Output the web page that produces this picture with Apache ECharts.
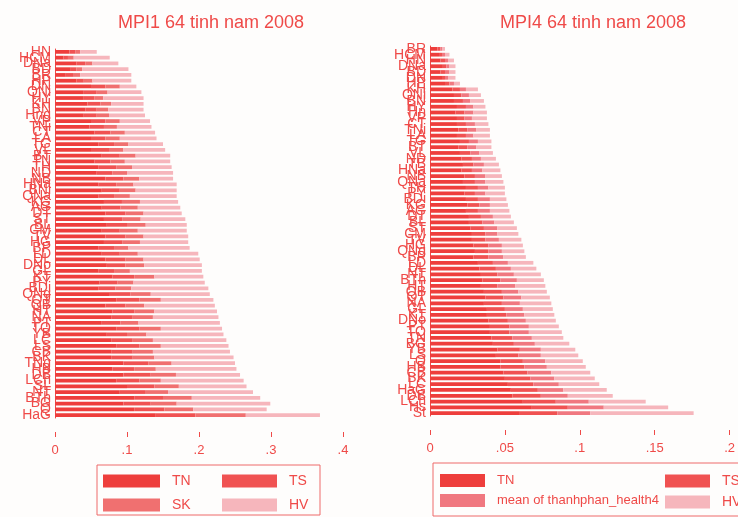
<!DOCTYPE html>
<html>
<head>
<meta charset="utf-8">
<title>MPI 64 tinh nam 2008</title>
<script src="https://cdn.jsdelivr.net/npm/echarts@6/dist/echarts.min.js"></script>
<style>
  html, body { margin: 0; padding: 0; background: #fefdfc; }
  #chart { width: 738px; height: 517px; }
</style>
</head>
<body>
<div id="chart"></div>
<script>
// MPI1 panel (left): 64 provinces, top to bottom
const provincesMpi1 = ['HN', 'HCM', 'DNa', 'BD', 'BR', 'HP', 'DN', 'QNi', 'HY', 'KH', 'BN', 'Hng', 'VP', 'TNi', 'CT', 'LA',
  'TG', 'VL', 'BT', 'TN', 'TH', 'ND', 'NB', 'HNa', 'BNi', 'QNa', 'KG', 'AG', 'DT', 'ST', 'BL', 'CM',
  'TV', 'HG', 'BP', 'LD', 'DL', 'DNo', 'GL', 'KT', 'PY', 'BDi', 'QNg', 'QT', 'QB', 'HT', 'NA', 'PT',
  'TQ', 'YB', 'LC', 'LS', 'CB', 'BK', 'TNg', 'HB', 'DB', 'LCh', 'SL', 'NT', 'BTh', 'BG', 'Q', 'HaG']
const mpi1TN = [0.020, 0.012, 0.030, 0.022, 0.015, 0.030, 0.050, 0.040, 0.040, 0.045, 0.042, 0.040, 0.050, 0.048, 0.055, 0.050,
  0.060, 0.050, 0.065, 0.055, 0.060, 0.058, 0.070, 0.060, 0.065, 0.060, 0.068, 0.065, 0.070, 0.068, 0.072, 0.065,
  0.070, 0.068, 0.060, 0.065, 0.070, 0.072, 0.060, 0.080, 0.062, 0.060, 0.075, 0.085, 0.070, 0.080, 0.078, 0.065,
  0.085, 0.072, 0.078, 0.085, 0.078, 0.078, 0.095, 0.080, 0.095, 0.085, 0.100, 0.090, 0.110, 0.095, 0.110, 0.140]
const mpi1TS = [0.008, 0.006, 0.012, 0.008, 0.010, 0.010, 0.020, 0.018, 0.015, 0.018, 0.016, 0.018, 0.020, 0.020, 0.022, 0.020,
  0.022, 0.025, 0.025, 0.022, 0.025, 0.022, 0.025, 0.025, 0.025, 0.022, 0.025, 0.026, 0.028, 0.026, 0.028, 0.025,
  0.028, 0.026, 0.022, 0.025, 0.028, 0.026, 0.022, 0.030, 0.025, 0.024, 0.030, 0.032, 0.028, 0.030, 0.030, 0.026,
  0.032, 0.028, 0.030, 0.032, 0.030, 0.030, 0.035, 0.030, 0.038, 0.032, 0.038, 0.035, 0.040, 0.038, 0.042, 0.055]
const mpi1SK = [0.007, 0.008, 0.010, 0.008, 0.010, 0.012, 0.020, 0.015, 0.012, 0.015, 0.016, 0.017, 0.020, 0.018, 0.020, 0.020,
  0.020, 0.020, 0.022, 0.020, 0.022, 0.020, 0.022, 0.024, 0.022, 0.022, 0.025, 0.024, 0.025, 0.025, 0.026, 0.025,
  0.025, 0.024, 0.020, 0.025, 0.025, 0.026, 0.022, 0.028, 0.022, 0.022, 0.028, 0.030, 0.026, 0.028, 0.028, 0.025,
  0.030, 0.027, 0.028, 0.030, 0.028, 0.030, 0.032, 0.030, 0.035, 0.030, 0.034, 0.032, 0.040, 0.036, 0.040, 0.070]
const mpi1HV = [0.023, 0.050, 0.036, 0.064, 0.071, 0.054, 0.023, 0.047, 0.056, 0.045, 0.049, 0.050, 0.042, 0.048, 0.042, 0.051,
  0.048, 0.058, 0.048, 0.063, 0.055, 0.064, 0.047, 0.060, 0.057, 0.065, 0.053, 0.059, 0.053, 0.062, 0.057, 0.068,
  0.062, 0.067, 0.085, 0.084, 0.078, 0.080, 0.100, 0.068, 0.099, 0.107, 0.082, 0.073, 0.098, 0.087, 0.091, 0.113,
  0.085, 0.107, 0.102, 0.094, 0.107, 0.110, 0.088, 0.112, 0.089, 0.115, 0.094, 0.118, 0.095, 0.130, 0.102, 0.103]

// MPI4 panel (right)
const provincesMpi4 = ['BR', 'HCM', 'HN', 'DNa', 'BD', 'DN', 'HP', 'KH', 'QNi', 'BN', 'HY', 'Hn', 'VP', 'CT', 'TNi', 'LA',
  'TG', 'BT', 'VL', 'ND', 'TB', 'HNa', 'NB', 'QNa', 'TH', 'PY', 'BDi', 'KG', 'AG', 'DT', 'BL', 'ST',
  'CM', 'TV', 'HG', 'QNg', 'BP', 'LD', 'DL', 'NT', 'BTh', 'HT', 'QB', 'QT', 'NA', 'GL', 'KT', 'DNo',
  'PT', 'TQ', 'TN', 'BG', 'YB', 'LS', 'Q', 'HB', 'CB', 'BK', 'LC', 'HaG', 'DB', 'LCh', 'Hs', 'St']
const mpi4TN = [0.005, 0.006, 0.007, 0.008, 0.007, 0.008, 0.010, 0.015, 0.016, 0.016, 0.018, 0.017, 0.018, 0.018, 0.019, 0.018,
  0.020, 0.019, 0.020, 0.021, 0.022, 0.021, 0.023, 0.022, 0.024, 0.023, 0.024, 0.025, 0.024, 0.026, 0.026, 0.027,
  0.028, 0.028, 0.029, 0.030, 0.029, 0.032, 0.033, 0.034, 0.035, 0.034, 0.036, 0.037, 0.036, 0.038, 0.038, 0.039,
  0.040, 0.040, 0.041, 0.042, 0.045, 0.044, 0.047, 0.047, 0.049, 0.050, 0.052, 0.054, 0.055, 0.062, 0.068, 0.060]
const mpi4TS = [0.002, 0.002, 0.003, 0.003, 0.003, 0.002, 0.003, 0.005, 0.005, 0.006, 0.006, 0.006, 0.005, 0.006, 0.006, 0.006,
  0.006, 0.006, 0.007, 0.007, 0.007, 0.007, 0.007, 0.008, 0.008, 0.007, 0.008, 0.008, 0.008, 0.008, 0.009, 0.009,
  0.009, 0.009, 0.010, 0.009, 0.010, 0.010, 0.011, 0.011, 0.012, 0.011, 0.012, 0.012, 0.012, 0.012, 0.013, 0.013,
  0.013, 0.013, 0.014, 0.014, 0.015, 0.015, 0.015, 0.016, 0.016, 0.017, 0.017, 0.018, 0.019, 0.022, 0.024, 0.025]
const mpi4Health = [0.001, 0.002, 0.002, 0.002, 0.003, 0.002, 0.003, 0.004, 0.005, 0.005, 0.005, 0.006, 0.005, 0.006, 0.006, 0.005,
  0.006, 0.006, 0.006, 0.006, 0.007, 0.007, 0.007, 0.007, 0.007, 0.007, 0.008, 0.007, 0.008, 0.008, 0.008, 0.009,
  0.008, 0.009, 0.009, 0.009, 0.010, 0.010, 0.010, 0.011, 0.011, 0.012, 0.011, 0.012, 0.012, 0.012, 0.012, 0.012,
  0.013, 0.013, 0.013, 0.014, 0.014, 0.015, 0.015, 0.015, 0.016, 0.016, 0.017, 0.017, 0.018, 0.022, 0.024, 0.022]
const mpi4HV = [0.002, 0.003, 0.004, 0.004, 0.004, 0.005, 0.004, 0.008, 0.008, 0.009, 0.008, 0.009, 0.010, 0.009, 0.009, 0.011,
  0.009, 0.010, 0.009, 0.010, 0.010, 0.012, 0.011, 0.012, 0.011, 0.013, 0.011, 0.012, 0.013, 0.012, 0.013, 0.013,
  0.014, 0.015, 0.014, 0.015, 0.015, 0.017, 0.017, 0.018, 0.018, 0.020, 0.019, 0.019, 0.021, 0.020, 0.020, 0.020,
  0.020, 0.022, 0.021, 0.023, 0.023, 0.025, 0.025, 0.026, 0.026, 0.027, 0.027, 0.029, 0.030, 0.038, 0.043, 0.069]

const axisTicksMpi1 = { min: 0, max: 0.4, interval: 0.1 }
const axisTicksMpi4 = { min: 0, max: 0.2, interval: 0.05 }

const RED = '#ef4a48'
const COLORS = { TN: '#ee3e3c', TS: '#f05252', SK: '#f07070', HV: '#f6b6bc' }
const FONT = '"Liberation Sans", Arial, sans-serif'

// Stata-style tick labels: ".1" instead of "0.1"
const stataTick = v => String(+v.toFixed(2)).replace(/^0\./, '.')

function makeXAxis(gridIndex, ticks) {
  return {
    type: 'value',
    gridIndex,
    min: ticks.min,
    max: ticks.max,
    interval: ticks.interval,
    offset: 14,
    axisLine: { show: false },
    axisTick: { show: true, length: 5, lineStyle: { color: RED } },
    splitLine: { show: false },
    axisLabel: { color: RED, fontSize: 13, fontFamily: FONT, margin: 12, formatter: stataTick }
  }
}

function makeYAxis(gridIndex, names) {
  return {
    type: 'category',
    gridIndex,
    data: names,
    inverse: true,
    axisLine: { show: true, lineStyle: { color: RED, width: 1 } },
    axisTick: { show: false },
    axisLabel: { interval: 0, color: RED, fontSize: 14, fontFamily: FONT, margin: 4 }
  }
}

function barSeries(name, data, color, idx, stack) {
  return {
    name,
    type: 'bar',
    stack,
    xAxisIndex: idx,
    yAxisIndex: idx,
    data,
    barCategoryGap: '35%',
    itemStyle: { color },
    emphasis: { disabled: true }
  }
}

// one legend column; padding 0 so two rows fit without wrapping
function legendBlock(left, top, names, itemWidth, itemGap, fontSize = 14) {
  return {
    left, top,
    orient: 'vertical',
    padding: 0,
    data: names,
    icon: 'rect',
    itemWidth, itemHeight: 13, itemGap,
    selectedMode: false,
    textStyle: { color: RED, fontSize, fontFamily: FONT, padding: [0, 0, 0, 7] }
  }
}

const chart = echarts.init(document.getElementById('chart'))
chart.setOption({
  backgroundColor: '#fefdfc',
  animation: false,
  title: [
    { text: 'MPI1 64 tinh nam 2008', left: 206, top: 9, textAlign: 'center',
      textStyle: { color: RED, fontSize: 18, fontWeight: 'normal', fontFamily: FONT } },
    { text: 'MPI4 64 tinh nam 2008', left: 588, top: 9, textAlign: 'center',
      textStyle: { color: RED, fontSize: 18, fontWeight: 'normal', fontFamily: FONT } }
  ],
  grid: [
    { left: 55, top: 49, width: 288, height: 369 },
    { left: 430, top: 46, width: 300, height: 370 }
  ],
  xAxis: [makeXAxis(0, axisTicksMpi1), makeXAxis(1, axisTicksMpi4)],
  yAxis: [makeYAxis(0, provincesMpi1), makeYAxis(1, provincesMpi4)],
  legend: [
    legendBlock(103, 474, ['TN', 'SK'], 57, 10),
    legendBlock(222, 474, ['TS', 'HV'], 55, 10),
    legendBlock(440, 474, ['TN', 'mean of thanhphan_health4'], 45, 7, 13),
    legendBlock(665, 474, ['TS', 'HV'], 45, 7)
  ],
  graphic: [
    { type: 'rect', shape: { x: 97, y: 465, width: 223, height: 50 },
      style: { fill: 'none', stroke: '#ee6b6b', lineWidth: 1 } },
    { type: 'rect', shape: { x: 433, y: 463, width: 310, height: 53 },
      style: { fill: 'none', stroke: '#ee6b6b', lineWidth: 1 } }
  ],
  series: [
    barSeries('TN', mpi1TN, COLORS.TN, 0, 'mpi1'),
    barSeries('TS', mpi1TS, COLORS.TS, 0, 'mpi1'),
    barSeries('SK', mpi1SK, COLORS.SK, 0, 'mpi1'),
    barSeries('HV', mpi1HV, COLORS.HV, 0, 'mpi1'),
    barSeries('TN', mpi4TN, COLORS.TN, 1, 'mpi4'),
    barSeries('TS', mpi4TS, COLORS.TS, 1, 'mpi4'),
    barSeries('mean of thanhphan_health4', mpi4Health, '#f07880', 1, 'mpi4'),
    barSeries('HV', mpi4HV, COLORS.HV, 1, 'mpi4')
  ]
})
</script>
</body>
</html>
